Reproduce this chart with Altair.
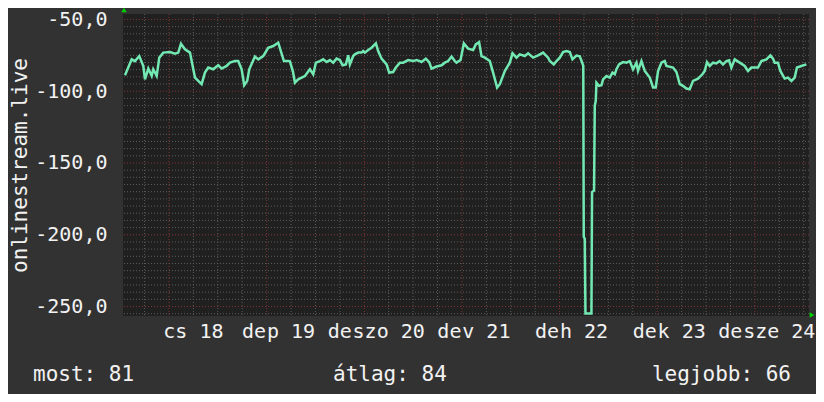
import altair as alt
import pandas as pd

# hours relative to day-18 00:00
hours = [-10.81, -9.16, -8.35, -7.30, -6.31, -5.90, -5.08, -4.25, -3.86, -3.02, -2.38, -1.40,
         0.25, 1.47, 2.28, 2.95, 3.93, 5.16, 6.39, 7.20, 8.03, 8.84, 9.65, 10.88, 12.11, 12.95,
         14.17, 14.98, 16.21, 17.02, 17.86, 18.50, 19.23, 19.73, 21.13, 21.94, 23.16, 24.39,
         25.62, 26.85, 28.25, 29.31, 29.72, 30.46, 30.95, 31.76, 32.60, 33.41, 34.64, 35.45,
         36.11, 37.09, 37.90, 38.74, 39.55, 40.36, 41.20, 42.01, 42.67, 43.48, 44.05, 44.46,
         45.27, 45.69, 46.50, 47.34, 47.73, 48.15, 48.96, 49.79, 50.85, 51.41, 52.25, 53.48,
         54.12, 55.10, 55.76, 56.75, 57.56, 58.78, 60.01, 60.85, 61.66, 62.08, 63.13, 63.94,
         64.53, 65.76, 66.99, 67.80, 68.61, 69.45, 70.26, 70.67, 71.66, 72.47, 73.52, 74.75,
         75.41, 76.22, 76.81, 77.63, 78.85, 79.66, 80.65, 81.31, 82.54, 83.77, 84.43, 85.42,
         86.22, 87.45, 88.27, 89.49, 90.72, 91.95, 93.18, 93.59, 94.58, 95.24, 96.05, 96.86,
         97.70, 98.51, 99.17, 100.15, 100.96, 101.62, 101.82, 101.94, 102.19, 102.36, 103.83,
         103.98, 104.47, 104.65, 104.89, 105.06, 105.70, 106.29, 106.69, 107.52, 108.33,
         108.99, 109.56, 109.97, 110.61, 111.60, 112.43, 113.24, 114.05, 114.89, 115.28,
         116.12, 116.93, 118.16, 118.97, 119.63, 120.20, 121.03, 121.84, 122.26, 123.88,
         124.72, 125.53, 126.34, 127.17, 127.98, 128.80, 130.02, 131.10, 131.67, 132.23,
         132.90, 133.71, 134.54, 135.35, 136.16, 137.00, 137.64, 138.23, 139.04, 140.27,
         141.50, 142.31, 143.14, 144.76, 145.60, 146.83, 147.81, 148.45, 148.86, 149.67,
         150.26, 151.32, 152.13, 152.97, 153.78, 154.34, 155.42, 156.65]
values = [-88.9, -77.8, -79.0, -75.5, -82.4, -91.7, -84.2, -89.4, -84.7, -89.4, -76.6, -73.1,
          -72.7, -73.8, -73.1, -66.9, -70.8, -73.1, -90.5, -92.8, -95.1, -87.0, -83.5, -84.7,
          -81.9, -84.2, -82.4, -80.1, -79.0, -79.0, -84.7, -95.8, -92.8, -84.7, -75.9, -77.8,
          -75.5, -69.7, -68.5, -66.2, -79.0, -79.0, -79.2, -86.1, -94.0, -91.7, -90.5, -89.4,
          -84.7, -88.2, -80.1, -79.0, -77.8, -79.7, -78.3, -80.1, -77.3, -78.3, -81.9, -81.3,
          -75.0, -81.3, -75.5, -74.3, -73.1, -73.1, -72.0, -73.1, -71.3, -69.7, -66.7, -72.0,
          -77.3, -81.3, -87.0, -86.6, -83.5, -80.1, -80.1, -78.3, -79.0, -78.3, -79.0, -79.7,
          -77.3, -79.7, -84.2, -82.8, -81.9, -80.1, -79.0, -75.9, -79.0, -80.1, -78.3, -66.7,
          -70.3, -71.3, -67.4, -65.8, -75.5, -76.6, -79.0, -87.0, -97.4, -95.1, -85.9, -80.1,
          -73.6, -76.6, -74.3, -75.5, -73.6, -76.6, -75.0, -73.1, -76.6, -79.0, -81.3, -79.0,
          -76.6, -72.7, -72.0, -72.7, -77.8, -75.2, -75.7, -80.6, -82.4, -201.4, -202.8,
          -254.9, -254.9, -170.3, -169.2, -110.2, -106.7, -94.0, -96.3, -95.8, -91.7, -89.4,
          -90.5, -87.0, -88.2, -84.7, -81.3, -79.7, -80.1, -79.0, -84.7, -80.1, -85.9, -79.0,
          -85.9, -90.5, -97.4, -97.4, -85.9, -80.1, -79.0, -82.4, -83.5, -86.6, -95.1, -96.3,
          -98.1, -98.6, -92.8, -91.2, -88.2, -85.9, -79.7, -82.4, -80.1, -80.6, -79.0, -81.3,
          -79.0, -78.5, -83.5, -77.8, -80.1, -82.4, -85.9, -83.5, -83.5, -79.0, -77.8, -75.0,
          -77.3, -80.1, -80.1, -85.9, -91.2, -90.5, -92.8, -90.5, -83.5, -82.4, -81.3]

day_hours = [0, 24, 48, 72, 96, 120, 144]
day_labels = ["cs 18", "p 19", "szo 20", "v 21", "h 22", "k 23", "sze 24"]
de_prefix = ["", "de", "de", "de", "de", "de", "de"]
y_label_values = [-250, -200, -150, -100, -50]
y_minor_values = [v for v in range(-255, -45, 5) if v % 50 != 0]
x_minor_hours = [h for h in range(-6, 157, 6) if h % 24 != 0]
footer_left, footer_mid, footer_right = "most: 81", "átlag: 84", "legjobb: 66"
y_title = "onlinestream.live"

W, H = 686, 302
X0, X1 = -11.3, 157.3
MONO = "DejaVu Sans Mono"
TXT = "#f2f2f2"
HPP = (X1 - X0) / W  # hours per pixel
xs = alt.Scale(domain=[X0, X1], nice=False, zero=False)
ys = alt.Scale(domain=[-256.6, -46.2], nice=False, zero=False)

y_axis = alt.Axis(
    values=y_label_values, labelExpr="datum.value + ',0'", grid=False, ticks=False,
    domain=False, labelFont=MONO, labelFontSize=20, labelColor=TXT, labelPadding=16,
    title=y_title, titleFont=MONO, titleFontSize=21, titleFontWeight="normal",
    titleColor=TXT, titleAngle=-90, titleX=-103, titleY=151, titleAlign="center",
    titleBaseline="middle")

line_df = pd.DataFrame({"h": hours, "v": values})

hmin = alt.Chart(pd.DataFrame({"y": y_minor_values})).mark_rule(
    color="#5c5c5c", strokeDash=[1, 2], strokeWidth=1).encode(y=alt.Y("y:Q", scale=ys, axis=y_axis))
hmaj = alt.Chart(pd.DataFrame({"y": y_label_values})).mark_rule(
    color="#7f3434", strokeDash=[1, 2], strokeWidth=1).encode(y=alt.Y("y:Q", scale=ys, axis=y_axis))
vmin = alt.Chart(pd.DataFrame({"x": x_minor_hours})).mark_rule(
    color="#5c5c5c", strokeDash=[1, 2], strokeWidth=1).encode(x=alt.X("x:Q", scale=xs, axis=None))
vmaj = alt.Chart(pd.DataFrame({"x": day_hours})).mark_rule(
    color="#7f3434", strokeDash=[1, 2], strokeWidth=1).encode(x=alt.X("x:Q", scale=xs, axis=None))

line = alt.Chart(line_df).mark_line(color="#72e8b2", strokeWidth=2.5, clip=True).encode(
    x=alt.X("h:Q", scale=xs, axis=None),
    y=alt.Y("v:Q", scale=ys, axis=y_axis),
)

lab_df = pd.DataFrame({"x": day_hours, "t": day_labels, "p": de_prefix})
xlab = alt.Chart(lab_df).mark_text(
    font=MONO, fontSize=20, color=TXT, align="center", baseline="alphabetic", dx=24.4
).encode(x=alt.X("x:Q", scale=xs, axis=None), y=alt.value(324), text="t:N")
# "de" prefix sits just before the weekday text
delab = alt.Chart(lab_df).transform_calculate(
    xp=f"datum.x + (23.6 - length(datum.t) * 6.02) * {HPP}"
).mark_text(
    font=MONO, fontSize=20, color=TXT, align="right", baseline="alphabetic"
).encode(x=alt.X("xp:Q", scale=xs, axis=None), y=alt.value(324), text="p:N")

def foot(txt, xpos, align):
    return alt.Chart(pd.DataFrame({"t": [txt]})).mark_text(
        font=MONO, fontSize=21, color=TXT, align=align, baseline="alphabetic"
    ).encode(x=alt.value(xpos), y=alt.value(367), text="t:N")

f1 = foot(footer_left, -90, "left")
f2 = foot(footer_mid, 210, "left")
f3 = foot(footer_right, 668, "right")

arr_up = alt.Chart(pd.DataFrame({"a": [0]})).mark_point(
    shape="triangle-up", filled=True, size=30, color="#00d000", opacity=1
).encode(x=alt.value(1), y=alt.value(-4))
arr_right = alt.Chart(pd.DataFrame({"a": [0]})).mark_point(
    shape="triangle-right", filled=True, size=30, color="#00d000", opacity=1
).encode(x=alt.value(689), y=alt.value(301))

chart = alt.layer(hmin, vmin, hmaj, vmaj, line, xlab, delab, f1, f2, f3, arr_up, arr_right).properties(
    width=W, height=H,
    autosize=alt.AutoSizeParams(type="none"),
    padding={"left": 115, "top": 6, "right": 7, "bottom": 78},
    background="#323232",
).configure_view(fill="#202020", stroke=None)

chart.save("out.html", embed_options={"renderer": "svg", "actions": False})
